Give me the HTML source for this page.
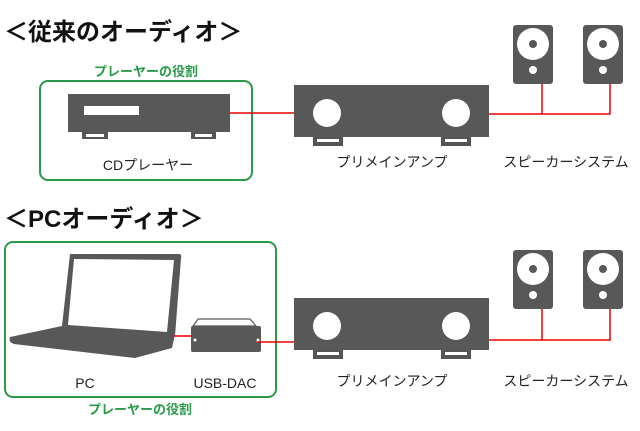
<!DOCTYPE html>
<html><head><meta charset="utf-8"><style>
body{margin:0;background:#fff;}
svg text{font-family:"Liberation Sans","Noto Sans CJK JP",sans-serif;}
</style></head><body>
<svg width="640" height="426" viewBox="0 0 640 426" xmlns="http://www.w3.org/2000/svg">
<rect width="640" height="426" fill="#fff"/>
<text x="4" y="40" font-size="24" font-weight="bold" fill="#111">＜従来のオーディオ＞</text>
<text x="146" y="76" font-size="13" font-weight="bold" fill="#2a9a4a" text-anchor="middle">プレーヤーの役割</text>
<rect x="40" y="81" width="212" height="99" rx="8" fill="none" stroke="#2a9a4a" stroke-width="2"/>
<rect x="82" y="130" width="26" height="9" fill="#555"/><rect x="86" y="134" width="18" height="3" fill="#fff"/>
<rect x="191" y="130" width="25" height="9" fill="#555"/><rect x="195" y="134" width="17" height="3" fill="#fff"/>
<rect x="68" y="94" width="162" height="38" fill="#585858"/>
<rect x="84" y="106" width="55" height="9" fill="#fff"/>
<line x1="230" y1="113" x2="295" y2="113" stroke="#e00" stroke-width="1.5"/>
<text x="148" y="170" font-size="14" fill="#222" text-anchor="middle">CDプレーヤー</text>
<g id="amp">
<rect x="313" y="134" width="30" height="12" fill="#555"/><rect x="317" y="139" width="22" height="3" fill="#fff"/>
<rect x="441" y="134" width="30" height="12" fill="#555"/><rect x="445" y="139" width="22" height="3" fill="#fff"/>
<rect x="294" y="85" width="195" height="52" fill="#585858"/>
<circle cx="327" cy="113" r="14" fill="#fff"/><circle cx="456" cy="113" r="14" fill="#fff"/>
</g>
<path d="M489 114H610V84M542 114V84" fill="none" stroke="#e00" stroke-width="1.5"/>
<g id="spk">
<rect x="513" y="25" width="40" height="59" rx="3" fill="#585858"/>
<circle cx="533" cy="44" r="16" fill="#fff"/><circle cx="533" cy="44" r="4" fill="#585858"/><circle cx="533" cy="70" r="4" fill="#fff"/>
<rect x="583" y="25" width="40" height="59" rx="3" fill="#585858"/>
<circle cx="603" cy="44" r="16" fill="#fff"/><circle cx="603" cy="44" r="4" fill="#585858"/><circle cx="603" cy="70" r="4" fill="#fff"/>
</g>
<text x="392" y="167" font-size="14" fill="#222" text-anchor="middle">プリメインアンプ</text>
<text x="566" y="167" font-size="14" fill="#222" text-anchor="middle">スピーカーシステム</text>

<text x="4" y="227" font-size="24" font-weight="bold" fill="#111">＜PCオーディオ＞</text>
<rect x="5" y="242" width="271" height="155" rx="8" fill="none" stroke="#2a9a4a" stroke-width="2"/>
<text x="140" y="414" font-size="13" font-weight="bold" fill="#2a9a4a" text-anchor="middle">プレーヤーの役割</text>
<path d="M70 254L180 254Q182 256 181 258L175 336L62 326Z" fill="#585858"/>
<path d="M74 259L174 260L167 332L68 325Z" fill="#fff"/>
<path d="M10 337L62 326L175 334L172 348L135 358L14 344Q8 342 10 337Z" fill="#585858"/>
<line x1="174" y1="336" x2="194" y2="336" stroke="#e00" stroke-width="1.5"/>
<path d="M198 319H250L256 326H193Z" fill="#fff" stroke="#585858" stroke-width="1.2"/>
<rect x="191" y="326" width="70" height="26" rx="2" fill="#585858"/>
<circle cx="195" cy="340" r="1.5" fill="#fff"/><circle cx="258" cy="340" r="1.5" fill="#fff"/>
<line x1="258" y1="342" x2="294" y2="342" stroke="#e00" stroke-width="1.5"/>
<text x="85" y="388" font-size="14" fill="#222" text-anchor="middle">PC</text>
<text x="225" y="388" font-size="14" fill="#222" text-anchor="middle">USB-DAC</text>
<use href="#amp" transform="translate(0,213)"/>
<use href="#spk" transform="translate(0,225)"/>
<path d="M489 340H610V309M542 340V309" fill="none" stroke="#e00" stroke-width="1.5"/>
<text x="392" y="386" font-size="14" fill="#222" text-anchor="middle">プリメインアンプ</text>
<text x="566" y="386" font-size="14" fill="#222" text-anchor="middle">スピーカーシステム</text>
</svg>
</body></html>
